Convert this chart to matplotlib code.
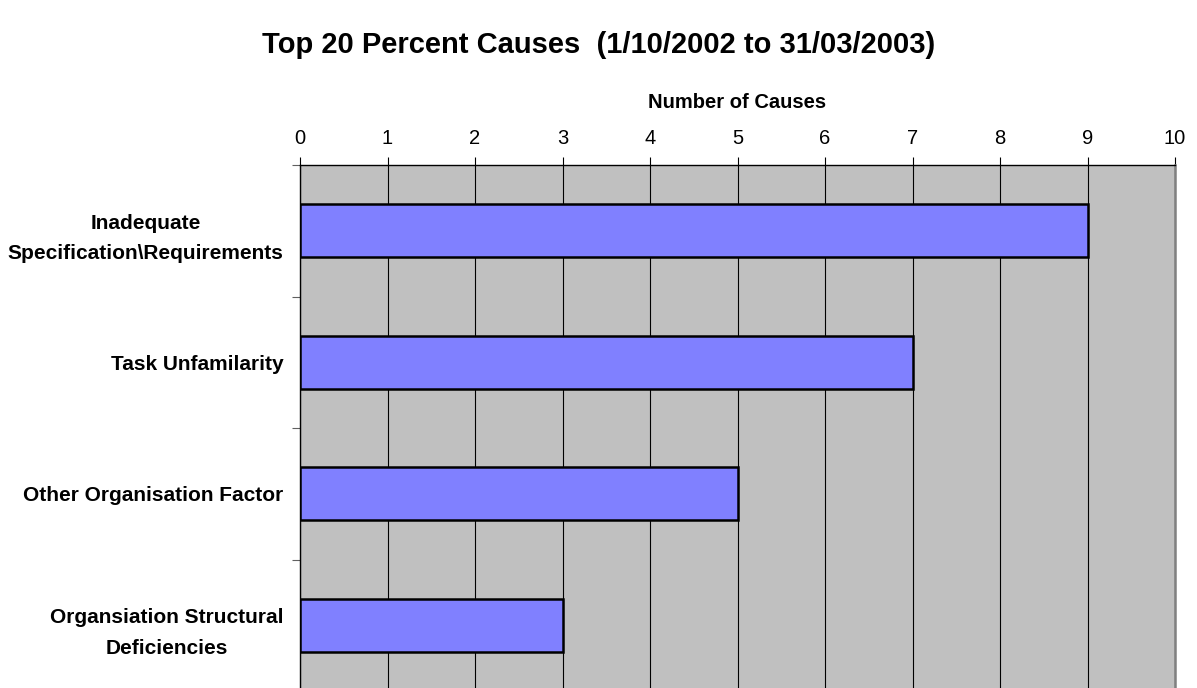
import numpy as np
import matplotlib
matplotlib.use("Agg")
import matplotlib.pyplot as plt

# --- data ---
causes = [
    "Inadequate\nSpecification\\Requirements",
    "Task Unfamilarity",
    "Other Organisation Factor",
    "Organsiation Structural\nDeficiencies",
]
counts = [9, 7, 5, 3]
x_ticks = list(range(0, 11))

plt.rcParams['font.family'] = ['Liberation Sans', 'DejaVu Sans']

fig = plt.figure(figsize=(11.97, 6.88), dpi=100)
fig.patch.set_facecolor('white')

# plot area runs off the bottom of the picture, like the original
ax = fig.add_axes([300 / 1197, -3 / 688, 875 / 1197, (691 - 165) / 688])
ax.set_facecolor('#C0C0C0')
ax.set_axisbelow(True)

y = np.arange(len(causes))
ax.barh(y, counts, height=0.4, color='#8080FF', edgecolor='black', linewidth=1.8, zorder=3)

ax.set_xlim(0, 10)
ax.set_ylim(len(causes) - 0.5, -0.5)

# x axis on top
ax.xaxis.tick_top()
ax.xaxis.set_label_position('top')
ax.set_xticks(x_ticks)
ax.set_xticklabels([str(v) for v in x_ticks], fontsize=14.5)
ax.tick_params(axis='x', direction='out', length=6, width=0.8, color='black', pad=6)
ax.set_xlabel("Number of Causes", fontsize=14.5, fontweight='bold', labelpad=15)
ax.grid(axis='x', color='black', linewidth=0.8, zorder=1)

# category labels, boundary ticks as minor ticks
ax.set_yticks(y)
ax.set_yticklabels(causes, fontsize=15, fontweight='bold',
                   multialignment='center', linespacing=1.75)
ax.set_yticks(np.arange(-0.5, len(causes) - 0.5, 1.0), minor=True)
ax.tick_params(axis='y', which='major', length=0, pad=12)
ax.tick_params(axis='y', which='minor', direction='out', length=6, width=0.8, color='#606060')

for side in ('left', 'top'):
    ax.spines[side].set_color('black')
    ax.spines[side].set_linewidth(1.0)
ax.spines['right'].set_color('#808080')
ax.spines['right'].set_linewidth(1.8)
ax.spines['bottom'].set_visible(False)

fig.text(0.5, 1 - 45 / 688, "Top 20 Percent Causes  (1/10/2002 to 31/03/2003)",
         ha='center', va='center', fontsize=21, fontweight='bold')

fig.savefig("out.png", dpi=100)
